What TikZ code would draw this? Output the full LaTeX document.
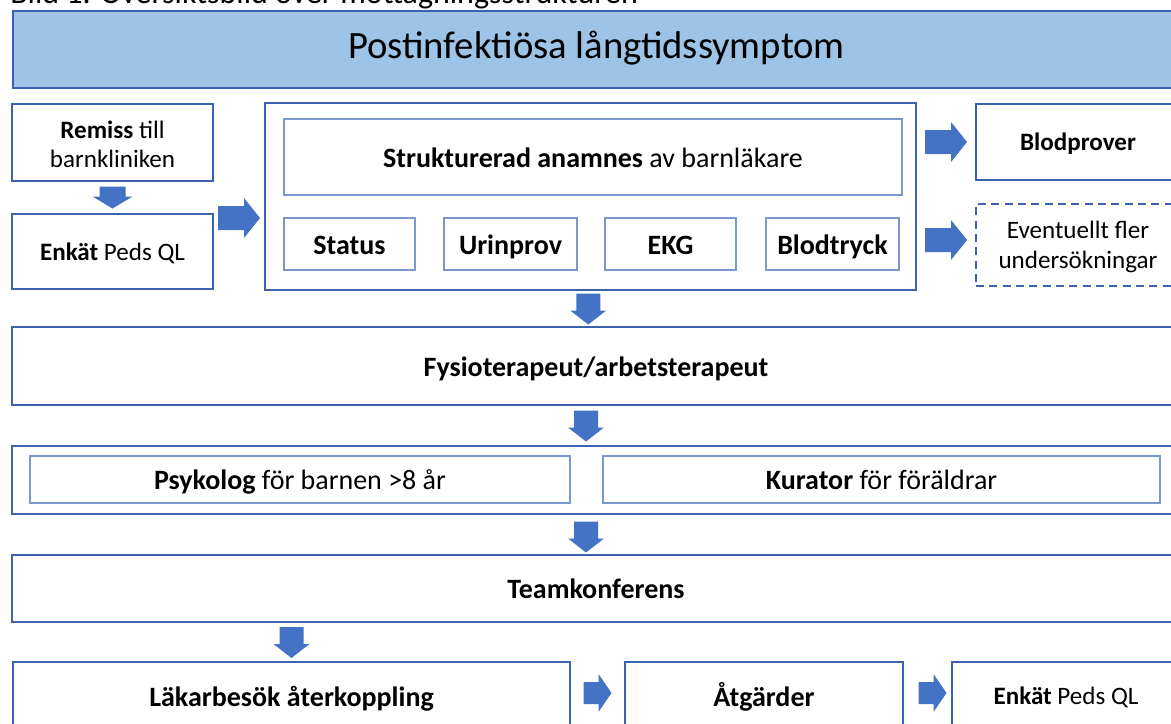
\documentclass[tikz,border=0pt]{standalone}
\usepackage{fontspec}
\setmainfont{Carlito}
\usetikzlibrary{fit,calc}
\definecolor{titlefill}{HTML}{9DC3E6}
\definecolor{edge}{HTML}{3B62AE}
\definecolor{inedge}{HTML}{7A98CE}
\definecolor{arrowblue}{HTML}{4472C4}
\newcommand{\smallfs}{\fontsize{18.8}{22}\selectfont}
\newcommand{\bigfs}{\fontsize{21}{25}\selectfont}
\begin{document}
\begin{tikzpicture}[x=0.75pt,y=-0.75pt,
  font=\bigfs,
  outer/.style={draw=edge, line width=1.8pt, inner sep=0pt},
  inner/.style={draw=inedge, line width=1pt, inner sep=0pt},
  dashbox/.style={draw=edge, line width=1.8pt, dash pattern=on 6pt off 4pt, inner sep=0pt},
  bigtext/.style={font=\bigfs, anchor=base, yshift=-7.5pt, inner sep=0pt},
  smalltext/.style={font=\smallfs, anchor=base, yshift=-6.5pt, inner sep=0pt},
  twotext/.style={font=\smallfs, align=center, yshift=-1.5pt},
  darr/.pic={\fill[arrowblue] (-12,-15) -- (12,-15) -- (12,2) -- (18,2) -- (0,16) -- (-18,2) -- (-12,2) -- cycle;},
  darrsmall/.pic={\fill[arrowblue] (-13,-11) -- (13,-11) -- (13,-1) -- (20,-1) -- (0,11) -- (-20,-1) -- (-13,-1) -- cycle;},
  rarr/.pic={\fill[arrowblue] (-21,-12) -- (5,-12) -- (5,-20) -- (21,0) -- (5,20) -- (5,12) -- (-21,12) -- cycle;},
  rarrsmall/.pic={\fill[arrowblue] (-14,-11) -- (1,-11) -- (1,-19) -- (14,0) -- (1,19) -- (1,11) -- (-14,11) -- cycle;}]
\useasboundingbox (0,0) rectangle (1171,724);

\node[anchor=base west, inner sep=0pt, font=\fontsize{24}{28}\selectfont] (cap) at (10,4) {Bild 1. Översiktsbild över mottagningsstrukturen};

% boxes
\node[outer, fill=titlefill, fit={(13,11) (1180,88)}] (title) {};
\node[outer, fit={(12,104) (213,181)}] (remiss) {};
\node[outer, fit={(12,214) (213,289)}] (enk1) {};
\node[outer, fit={(265,103) (916,290)}] (big) {};
\node[inner, fit={(284,119) (902,195)}] (anam) {};
\node[inner, fit={(284,218) (415,270)}] (status) {};
\node[inner, fit={(444,218) (577,270)}] (urin) {};
\node[inner, fit={(605,218) (736,270)}] (ekg) {};
\node[inner, fit={(766,218) (899,270)}] (bt) {};
\node[outer, fit={(976,104) (1180,180)}] (blod) {};
\node[dashbox, fit={(976,204) (1180,286)}] (event) {};
\node[outer, fit={(12,327) (1180,405)}] (fysio) {};
\node[outer, fit={(12,446) (1180,514)}] (psyrow) {};
\node[inner, fit={(30,456) (570,503)}] (psyk) {};
\node[inner, fit={(603,456) (1160,503)}] (kur) {};
\node[outer, fit={(12,555) (1180,622)}] (team) {};
\node[outer, fit={(13,662) (570,730)}] (lak) {};
\node[outer, fit={(625,662) (903,730)}] (atg) {};
\node[outer, fit={(952,662) (1180,730)}] (enk2) {};

% texts
\node[font=\fontsize{29}{34}\selectfont, anchor=base, yshift=-7pt, inner sep=0pt] (titletxt) at (title.center) {Postinfektiösa långtidssymptom};
\node[twotext] (remisstxt) at (remiss.center) {\textbf{Remiss} till\\barnkliniken};
\node[smalltext] (enk1txt) at (enk1.center) {\textbf{Enkät} Peds QL};
\node[bigtext] (anamtxt) at (anam.center) {\textbf{Strukturerad anamnes} av barnläkare};
\node[bigtext] (statustxt) at (status.center) {\textbf{Status}};
\node[bigtext] (urintxt) at (urin.center) {\textbf{Urinprov}};
\node[bigtext] (ekgtxt) at (ekg.center) {\textbf{EKG}};
\node[bigtext] (bttxt) at (bt.center) {\textbf{Blodtryck}};
\node[smalltext] (blodtxt) at (blod.center) {\textbf{Blodprover}};
\node[twotext] (eventtxt) at (event.center) {Eventuellt fler\\undersökningar};
\node[bigtext] (fysiotxt) at (fysio.center) {\textbf{Fysioterapeut/arbetsterapeut}};
\node[bigtext] (psyktxt) at (psyk.center) {\textbf{Psykolog} för barnen >8 år};
\node[bigtext] (kurtxt) at (kur.center) {\textbf{Kurator} för föräldrar};
\node[bigtext] (teamtxt) at (team.center) {\textbf{Teamkonferens}};
\node[bigtext] (laktxt) at (lak.center) {\textbf{Läkarbesök återkoppling}};
\node[bigtext] (atgtxt) at (atg.center) {\textbf{Åtgärder}};
\node[smalltext] (enk2txt) at (enk2.center) {\textbf{Enkät} Peds QL};

% block arrows
\pic at ($(remiss.south)!.5!(enk1.north)$) {darrsmall};
\pic at ($(enk1.east)!.5!(big.west)+(0,-6)$) {rarr};
\pic at ($(big.east|-blod)!.5!(blod.west)$) {rarr};
\pic at ($(big.east|-event)!.5!(event.west)+(0,-5)$) {rarr};
\pic at ($(big.south)!.5!(fysio.north)+(-5,0)$) {darr};
\pic at ($(fysio.south)!.5!(psyrow.north)+(-10,0)$) {darr};
\pic at ($(psyrow.south)!.5!(team.north)+(-10,2)$) {darr};
\pic at ($(team.south-|lak.north)!.5!(lak.north)$) {darr};
\pic at ($(lak.east)!.5!(atg.west)+(0,-3)$) {rarrsmall};
\pic at ($(atg.east)!.5!(enk2.west)+(5,-3)$) {rarrsmall};
\end{tikzpicture}
\end{document}
